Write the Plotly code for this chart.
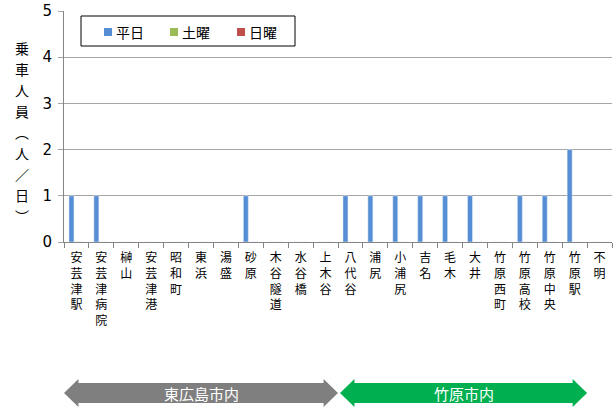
import plotly.graph_objects as go

categories = ["安芸津駅", "安芸津病院", "榊山", "安芸津港", "昭和町", "東浜", "湯盛", "砂原",
              "木谷隧道", "水谷橋", "上木谷", "八代谷", "浦尻", "小浦尻", "吉名", "毛木", "大井",
              "竹原西町", "竹原高校", "竹原中央", "竹原駅", "不明"]
series_names = ["平日", "土曜", "日曜"]
series_colors = ["#558ED5", "#9BBB59", "#C0504D"]
weekday = [1, 1, 0, 0, 0, 0, 0, 1, 0, 0, 0, 1, 1, 1, 1, 1, 1, 0, 1, 1, 2, 0]
saturday = [0] * 22
sunday = [0] * 22
y_ticks = [0, 1, 2, 3, 4, 5]
y_title = "乗車人員︵人／日︶"
regions = [("東広島市内", -0.5, 10.5, "#7F7F7F"), ("竹原市内", 10.58, 20.5, "#00B050")]

W, H = 614, 409
L, R, T, B = 64, 2, 11, 167
PW, PH = W - L - R, H - T - B


def px(x):  # page pixel x -> paper
    return (x - L) / PW


def py(y):  # page pixel y -> paper
    return (H - B - y) / PH


vert = ["<br>".join(list(c)) for c in categories]

fig = go.Figure()
for name, col, vals in zip(series_names, series_colors, [weekday, saturday, sunday]):
    fig.add_trace(go.Bar(x=vert, y=vals, name=name, marker_color=col, showlegend=False))

font = "Noto Sans CJK JP"
fig.update_layout(
    width=W, height=H,
    margin=dict(l=L, r=R, t=T, b=B, autoexpand=False),
    paper_bgcolor="white", plot_bgcolor="white",
    barmode="group", bargap=0.4, bargroupgap=0,
    font=dict(family=font, size=12, color="#000000"),
    xaxis=dict(type="category", tickson="boundaries", ticks="outside", ticklen=5,
               tickcolor="#868686", showline=True, linecolor="#868686", linewidth=1,
               showgrid=False, tickangle=0, tickfont=dict(size=12, family=font),
               range=[-0.5, 21.5], automargin=False, ticklabelstandoff=5),
    yaxis=dict(range=[0, 5], tickvals=y_ticks, showgrid=True, gridcolor="#A6A6A6",
               gridwidth=1, showline=True, linecolor="#868686", ticks="outside",
               ticklen=5, tickcolor="#A6A6A6", zeroline=False, automargin=False,
               ticklabelstandoff=3, ticklabeloverflow="allow",
               tickfont=dict(size=15, family="DejaVu Sans", color="#000000")),
)

# y-axis title written vertically, one character per row
for i, ch in enumerate(y_title):
    fig.add_annotation(text=ch, xref="paper", yref="paper", x=px(21.5), y=py(48 + 21 * i),
                       showarrow=False, xanchor="center", yanchor="middle",
                       font=dict(size=14, family=font))

# legend box
fig.add_shape(type="rect", xref="paper", yref="paper", x0=px(81), x1=px(295),
              y0=py(46), y1=py(16), line=dict(color="#000000", width=1),
              fillcolor="white", layer="above")
sq_x = [104, 170, 237]
for name, col, sx in zip(series_names, series_colors, sq_x):
    fig.add_shape(type="rect", xref="paper", yref="paper", x0=px(sx), x1=px(sx + 8),
                  y0=py(36), y1=py(28), fillcolor=col, line=dict(width=0), layer="above")
    fig.add_annotation(text=name, xref="paper", yref="paper", x=px(sx + 10), y=py(32),
                       xanchor="left", yanchor="middle", showarrow=False,
                       font=dict(size=14, family=font, color="#000000"))

# region arrows under the axis
yc, hb, hh, head = py(393), 10 / PH, 14 / PH, 0.58
for name, x0, x1, col in regions:
    path = (f"M {x0},{yc} L {x0+head},{yc+hh} L {x0+head},{yc+hb} L {x1-head},{yc+hb} "
            f"L {x1-head},{yc+hh} L {x1},{yc} L {x1-head},{yc-hh} L {x1-head},{yc-hb} "
            f"L {x0+head},{yc-hb} L {x0+head},{yc-hh} Z")
    fig.add_shape(type="path", path=path, xref="x", yref="paper", fillcolor=col,
                  line=dict(width=0), layer="above")
    fig.add_annotation(text=name, x=(x0 + x1) / 2, y=yc, xref="x", yref="paper",
                       showarrow=False, yanchor="middle",
                       font=dict(size=15, color="white", family=font))

fig.write_html("out.html", config={"displayModeBar": False},
               post_script="document.body.style.margin='0';")
